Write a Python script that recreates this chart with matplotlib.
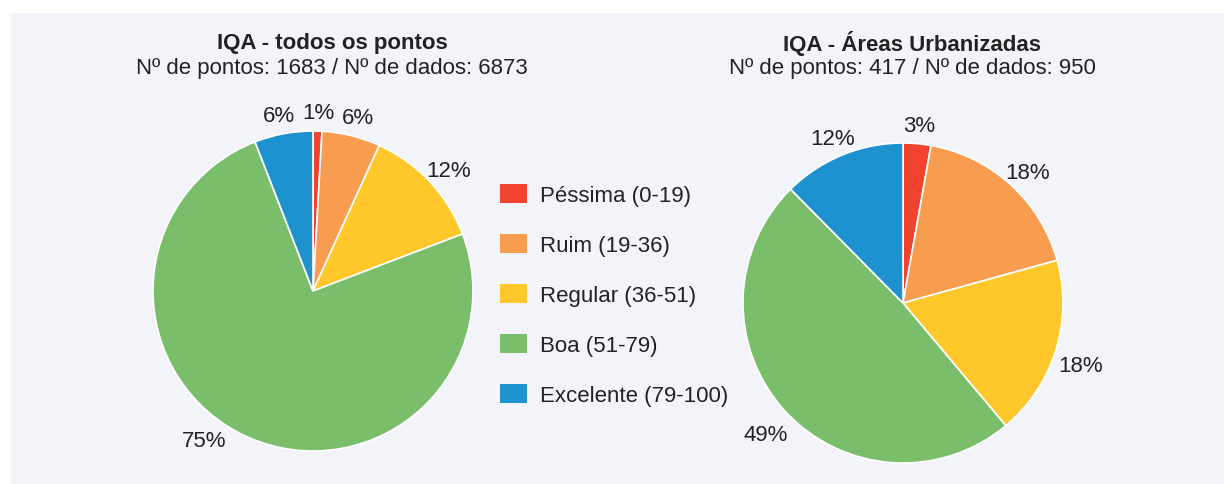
import numpy as np
import matplotlib
matplotlib.use("Agg")
import matplotlib.pyplot as plt
from matplotlib.patches import Rectangle, Patch

plt.rcParams['font.family'] = ['Liberation Sans', 'DejaVu Sans']

categories = ["Péssima (0-19)", "Ruim (19-36)", "Regular (36-51)", "Boa (51-79)", "Excelente (79-100)"]
colors = ["#F2432E", "#F89D4F", "#FFC729", "#7ABD6A", "#1E91CF"]

values_all = [0.9, 5.9, 12.4, 74.9, 5.9]
values_urb = [2.8, 17.9, 18.2, 48.7, 12.4]

title_all = "IQA - todos os pontos"
subtitle_all = "Nº de pontos: 1683 / Nº de dados: 6873"
title_urb = "IQA - Áreas Urbanizadas"
subtitle_urb = "Nº de pontos: 417 / Nº de dados: 950"

W, H = 1224, 485
fig = plt.figure(figsize=(W / 100, H / 100), dpi=100)
fig.patch.set_facecolor("white")
fig.add_artist(Rectangle((11 / W, 0), 1 - 11 / W, (H - 14) / H,
                         transform=fig.transFigure, facecolor="#F3F4F9",
                         edgecolor="none", zorder=-10))

FS = 16
TXT = "#222222"
LABEL_BOTTOM = 442  # lowest label centre, pixels from top


def draw_pie(cx, cy, r, tx, vals, title, subtitle):
    ax = fig.add_axes([(cx - r) / W, (H - cy - r) / H, 2 * r / W, 2 * r / H])
    ax.pie(vals, colors=colors, startangle=90, counterclock=False,
           wedgeprops=dict(edgecolor="white", linewidth=1.2))
    ax.set_xlim(-1, 1)
    ax.set_ylim(-1, 1)
    ax.axis("off")
    tot = sum(vals)
    cum = 0
    d = 1.16
    shift = 7 / r
    ymin = -(LABEL_BOTTOM - cy) / r
    for v in vals:
        mid = (cum + v / 2) / tot * 2 * np.pi
        cum += v
        x, y = d * np.sin(mid), d * np.cos(mid) - shift
        if y < ymin:
            y = ymin
            x = np.sign(x) * np.sqrt(max(d * d - y * y, 0))
        ax.text(x, y, f"{round(v / tot * 100):d}%", ha="center", va="center",
                fontsize=FS, color=TXT)
    fig.text(tx / W, 1 - 44 / H, title, ha="center", va="center",
             fontsize=FS, fontweight="bold", color=TXT)
    fig.text(tx / W, 1 - 69 / H, subtitle, ha="center", va="center",
             fontsize=FS, color=TXT)


draw_pie(313, 292, 160, 332, values_all, title_all, subtitle_all)
draw_pie(903, 304, 160, 912, values_urb, title_urb, subtitle_urb)

handles = [Patch(facecolor=c, edgecolor="none") for c in colors]
leg = fig.legend(handles, categories, loc="upper left",
                 bbox_to_anchor=(500 / W, 1 - 185 / H), frameon=False,
                 fontsize=FS, handlelength=1.2, handleheight=0.95,
                 handletextpad=0.6, labelspacing=1.25, borderpad=0,
                 borderaxespad=0)
for t in leg.get_texts():
    t.set_color(TXT)

fig.savefig("out.png", dpi=100, facecolor=fig.get_facecolor())
